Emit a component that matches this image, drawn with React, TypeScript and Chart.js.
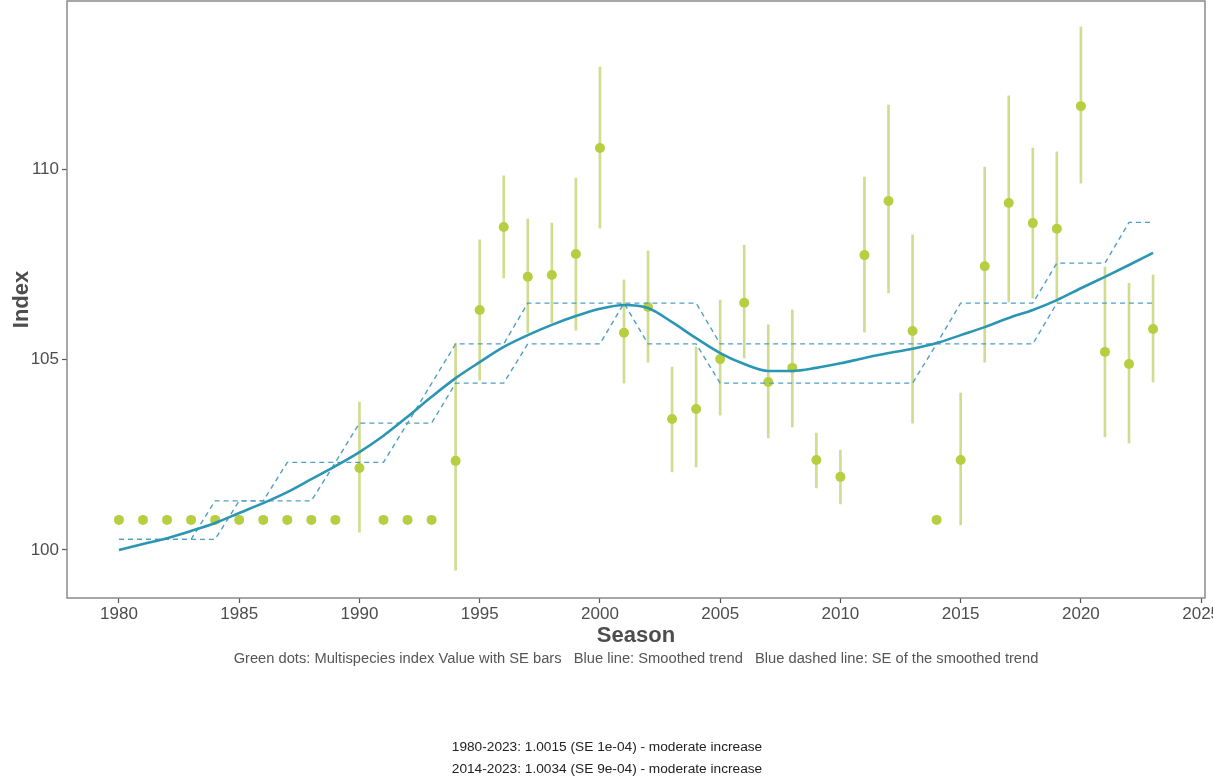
import React, { useEffect, useRef } from "react";
import { Chart, registerables } from "chart.js";

Chart.register(...registerables);

const YEARS = [
  1980, 1981, 1982, 1983, 1984, 1985, 1986, 1987, 1988, 1989,
  1990, 1991, 1992, 1993, 1994, 1995, 1996, 1997, 1998, 1999,
  2000, 2001, 2002, 2003, 2004, 2005, 2006, 2007, 2008, 2009,
  2010, 2011, 2012, 2013, 2014, 2015, 2016, 2017, 2018, 2019,
  2020, 2021, 2022, 2023,
];

const INDEX_VALUES = [
  100.79, 100.79, 100.79, 100.79, 100.79, 100.79, 100.79, 100.79, 100.79, 100.79,
  102.15, 100.79, 100.79, 100.79, 102.34, 106.3, 108.48, 107.17, 107.22, 107.77,
  110.55, 105.7, 106.38, 103.44, 103.7, 105.01, 106.49, 104.41, 104.78, 102.36,
  101.92, 107.74, 109.16, 105.75, 100.79, 102.36, 107.45, 109.11, 108.58, 108.43,
  111.65, 105.2, 104.88, 105.8,
];

const SE_LOW = [
  null, null, null, null, null, null, null, null, null, null,
  100.47, null, null, null, 99.47, 104.46, 107.14, 105.7, 105.96, 105.77,
  108.45, 104.38, 104.93, 102.05, 102.18, 103.54, 105.04, 102.94, 103.23, 101.63,
  101.21, 105.72, 106.75, 103.33, null, 100.66, 104.93, 106.51, 106.61, 106.5,
  109.63, 102.97, 102.81, 104.41,
];

const SE_HIGH = [
  null, null, null, null, null, null, null, null, null, null,
  103.88, null, null, null, 105.43, 108.14, 109.82, 108.69, 108.58, 109.76,
  112.68, 107.09, 107.85, 104.8, 105.33, 106.56, 108.0, 105.91, 106.3, 103.07,
  102.62, 109.79, 111.68, 108.27, null, 104.12, 110.05, 111.92, 110.55, 110.45,
  113.73, 107.43, 107.0, 107.22,
];

const TREND = [
  100.0, 100.16, 100.31, 100.5, 100.71, 100.97, 101.23, 101.52, 101.86, 102.2,
  102.57, 103.0, 103.5, 104.02, 104.51, 104.93, 105.33, 105.64, 105.91, 106.14,
  106.33, 106.43, 106.35, 105.98, 105.56, 105.17, 104.88, 104.7, 104.7, 104.78,
  104.9, 105.04, 105.17, 105.28, 105.43, 105.64, 105.85, 106.09, 106.3, 106.56,
  106.87, 107.17, 107.48, 107.8,
];

const TREND_UPPER = [
  100.28, 100.28, 100.28, 100.28, 101.29, 101.29, 101.29, 102.3, 102.3, 102.3,
  103.33, 103.33, 103.33, 104.37, 105.41, 105.41, 105.41, 106.48, 106.48, 106.48,
  106.48, 106.48, 106.48, 106.48, 106.48, 105.41, 105.41, 105.41, 105.41, 105.41,
  105.41, 105.41, 105.41, 105.41, 105.41, 106.48, 106.48, 106.48, 106.48, 107.53,
  107.53, 107.53, 108.6, 108.6,
];

const TREND_LOWER = [
  100.28, 100.28, 100.28, 100.28, 100.28, 101.29, 101.29, 101.29, 101.29, 102.3,
  102.3, 102.3, 103.33, 103.33, 104.38, 104.38, 104.38, 105.41, 105.41, 105.41,
  105.41, 106.48, 105.41, 105.41, 105.41, 104.38, 104.38, 104.38, 104.38, 104.38,
  104.38, 104.38, 104.38, 104.38, 105.41, 105.41, 105.41, 105.41, 105.41, 106.48,
  106.48, 106.48, 106.48, 106.48,
];

const X_TICKS = [1980, 1985, 1990, 1995, 2000, 2005, 2010, 2015, 2020, 2025];
const Y_TICKS = [100, 105, 110];

const X_TITLE = "Season";
const Y_TITLE = "Index";
const CAPTION =
  "Green dots: Multispecies index Value with SE bars   Blue line: Smoothed trend   Blue dashed line: SE of the smoothed trend";
const STATS = [
  "1980-2023: 1.0015 (SE 1e-04) - moderate increase",
  "2014-2023: 1.0034 (SE 9e-04) - moderate increase",
];

const FONT = '"Liberation Sans", Arial, Helvetica, sans-serif';
const TEXT_GREY = "#4d4d4d";

export default function App() {
  const canvasRef = useRef<HTMLCanvasElement | null>(null);

  useEffect(() => {
    const canvas = canvasRef.current;
    if (!canvas) return;

    const pts = (vals: (number | null)[]) =>
      YEARS.map((yr, i) => ({ x: yr, y: vals[i] }));

    const seBars = YEARS.map((yr, i) =>
      SE_LOW[i] != null && SE_HIGH[i] != null
        ? { x: yr, y: [SE_LOW[i] as number, SE_HIGH[i] as number] }
        : null
    ).filter((d) => d !== null);

    const frame = {
      id: "frameAndText",
      afterDraw(chart: any) {
        const { ctx, chartArea } = chart;
        ctx.save();
        ctx.strokeStyle = "#8a8a8a";
        ctx.lineWidth = 1.5;
        ctx.strokeRect(
          chartArea.left,
          chartArea.top,
          chartArea.right - chartArea.left,
          chartArea.bottom - chartArea.top
        );
        const cx = (chartArea.left + chartArea.right) / 2;
        ctx.textAlign = "center";
        ctx.textBaseline = "middle";
        ctx.fillStyle = "#555555";
        ctx.font = `14.7px ${FONT}`;
        ctx.fillText(CAPTION, cx, 659);
        ctx.fillStyle = "#222222";
        ctx.font = `13.7px ${FONT}`;
        ctx.fillText(STATS[0], 607, 747);
        ctx.fillText(STATS[1], 607, 769);
        ctx.restore();
      },
    };

    const tickGrid = {
      display: true,
      offset: false,
      drawOnChartArea: false,
      drawTicks: true,
      tickLength: 5,
      tickColor: "#555555",
      tickWidth: 1.2,
    };

    const chart = new Chart(canvas, {
      type: "line",
      data: {
        datasets: [
          {
            type: "bar",
            label: "SE",
            data: seBars as any,
            backgroundColor: "#d0dc8e",
            borderWidth: 0,
            barThickness: 2,
            order: 5,
          } as any,
          {
            label: "Multispecies index",
            data: pts(INDEX_VALUES),
            showLine: false,
            pointRadius: 5,
            pointBackgroundColor: "#b6ce40",
            pointBorderWidth: 0,
            order: 4,
          },
          {
            label: "SE upper",
            data: pts(TREND_UPPER),
            borderColor: "#4f9fc4",
            borderWidth: 1.4,
            borderDash: [5, 4],
            pointRadius: 0,
            fill: false,
            order: 3,
          },
          {
            label: "SE lower",
            data: pts(TREND_LOWER),
            borderColor: "#4f9fc4",
            borderWidth: 1.4,
            borderDash: [5, 4],
            pointRadius: 0,
            fill: false,
            order: 2,
          },
          {
            label: "Smoothed trend",
            data: pts(TREND),
            borderColor: "#2a96b3",
            borderWidth: 2.6,
            pointRadius: 0,
            cubicInterpolationMode: "monotone",
            fill: false,
            order: 1,
          },
        ],
      },
      options: {
        animation: false,
        responsive: false,
        maintainAspectRatio: false,
        layout: {
          autoPadding: false,
          padding: { top: 1, right: 8, left: 0, bottom: 0 },
        },
        plugins: {
          legend: { display: false },
          tooltip: { enabled: false },
        },
        scales: {
          x: {
            type: "linear",
            min: 1977.84,
            max: 2025.16,
            offset: false,
            afterBuildTicks: (scale: any) => {
              scale.ticks = X_TICKS.map((v) => ({ value: v }));
            },
            afterFit: (scale: any) => {
              scale.height = 182;
              scale.paddingLeft = 0;
              scale.paddingRight = 0;
            },
            grid: tickGrid,
            border: { display: false },
            ticks: {
              autoSkip: false,
              maxRotation: 0,
              padding: 1,
              color: TEXT_GREY,
              font: { family: FONT, size: 17 },
              callback: (v: any) => String(v),
            },
            title: {
              display: true,
              text: X_TITLE,
              color: TEXT_GREY,
              font: { family: FONT, size: 22, weight: "bold" },
              padding: { top: 0, bottom: 131 },
            },
          },
          y: {
            type: "linear",
            min: 98.74,
            max: 114.41,
            afterBuildTicks: (scale: any) => {
              scale.ticks = Y_TICKS.map((v) => ({ value: v }));
            },
            afterFit: (scale: any) => {
              scale.width = 67;
              scale.paddingTop = 0;
              scale.paddingBottom = 0;
            },
            grid: tickGrid,
            border: { display: false },
            ticks: {
              padding: 3,
              color: TEXT_GREY,
              font: { family: FONT, size: 17 },
              callback: (v: any) => String(v),
            },
            title: {
              display: true,
              text: Y_TITLE,
              color: TEXT_GREY,
              font: { family: FONT, size: 22, weight: "bold" },
              padding: { top: 9, bottom: 0 },
            },
          },
        },
      },
      plugins: [frame],
    });

    return () => chart.destroy();
  }, []);

  return (
    <div
      style={{
        position: "absolute",
        left: 0,
        top: 0,
        width: 1213,
        height: 780,
        background: "#ffffff",
      }}
    >
      <canvas ref={canvasRef} width={1213} height={780} />
    </div>
  );
}
